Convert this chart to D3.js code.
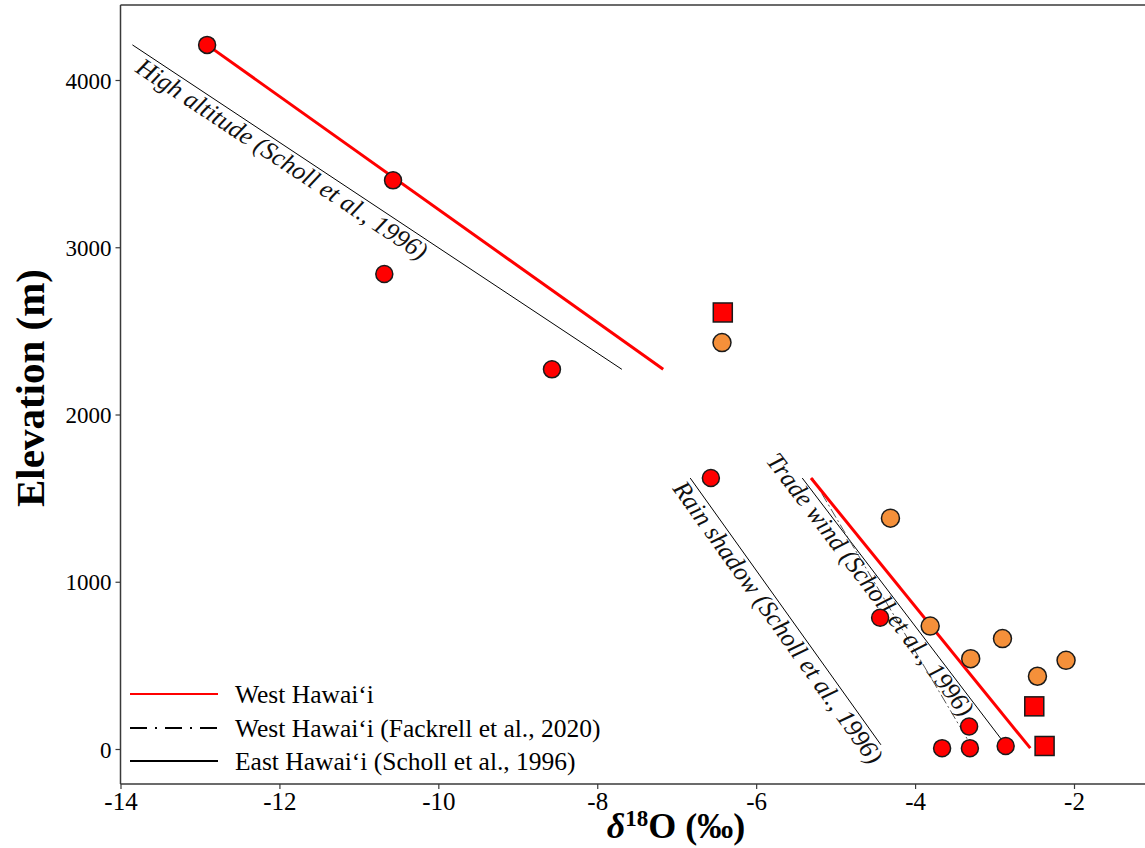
<!DOCTYPE html>
<html>
<head>
<meta charset="utf-8">
<script src="https://cdn.jsdelivr.net/npm/d3@7"></script>
<style>
  html, body { margin: 0; padding: 0; background: #fff; }
  svg { display: block; }
  text { font-family: "Liberation Serif", "Times New Roman", serif; }
</style>
</head>
<body>
<svg id="chart" width="1145" height="848"></svg>
<script>
// ---- data ----
const redCircleX = [-12.91, -10.57, -10.68, -8.57, -6.57, -4.44, -3.32, -3.66, -3.31, -2.86];
const redCircleY = [4210, 3400, 2840, 2270, 1620, 785, 135, 5, 5, 18];
const orangeX = [-6.43, -4.31, -3.81, -3.30, -2.90, -2.46, -2.10];
const orangeY = [2430, 1380, 735, 540, 660, 435, 530];
const squareX = [-6.42, -2.50, -2.37];
const squareY = [2610, 255, 18];

// regression / reference lines: [x1, y1, x2, y2]
const westHigh = [-12.91, 4210, -7.17, 2270];
const westLow = [-5.31, 1620, -2.55, 5];
const fackrell = [-5.29, 1620, -3.30, 25];
const highAltitude = [-13.85, 4210, -7.69, 2270];
const rainShadow = [-6.83, 1620, -4.43, 25];
const tradeWind = [-5.42, 1620, -2.84, 12];

const xTicks = [-14, -12, -10, -8, -6, -4, -2];
const yTicks = [0, 1000, 2000, 3000, 4000];

const legendLabels = ["West Hawai\u2018i", "West Hawai\u2018i (Fackrell et al., 2020)", "East Hawai\u2018i (Scholl et al., 1996)"];
const lineLabels = ["High altitude (Scholl et al., 1996)", "Rain shadow (Scholl et al., 1996)", "Trade wind (Scholl et al., 1996)"];

// ---- layout ----
const svg = d3.select("#chart");
const x = d3.scaleLinear().domain([-14, -2]).range([120.5, 1074]);
const y = d3.scaleLinear().domain([0, 4000]).range([749, 80]);
const plotTop = 5, plotBottom = 784, plotLeft = 120.5, plotRight = 1150;

const axisColor = "#3a3a3a";

// frame top line
svg.append("line").attr("x1", plotLeft).attr("x2", plotRight).attr("y1", plotTop).attr("y2", plotTop)
  .attr("stroke", axisColor).attr("stroke-width", 1.5);

// x axis
const xAxis = svg.append("g").attr("transform", `translate(0,${plotBottom})`)
  .call(d3.axisBottom(x).tickValues(xTicks).tickSize(5).tickSizeOuter(0).tickFormat(d => String(d)));
xAxis.select(".domain").attr("d", `M${plotLeft},0H${plotRight}`);
// y axis
const yAxis = svg.append("g").attr("transform", `translate(${plotLeft},0)`)
  .call(d3.axisLeft(y).tickValues(yTicks).tickSize(5).tickSizeOuter(0).tickFormat(d => String(d)));
yAxis.select(".domain").attr("d", `M0,${plotTop}V${plotBottom}`);

[xAxis, yAxis].forEach(g => {
  g.selectAll(".domain").attr("stroke", axisColor).attr("stroke-width", 1.5);
  g.selectAll(".tick line").attr("stroke", axisColor).attr("stroke-width", 1.2);
  g.selectAll(".tick text").attr("fill", "#000")
    .style("font-family", "'Liberation Serif', serif");
});
xAxis.selectAll(".tick text").style("font-size", "25px").attr("y", 8).attr("dy", "0.72em");
yAxis.selectAll(".tick text").style("font-size", "23px").attr("x", -9).attr("dy", "0.35em");

// axis titles
svg.append("text")
  .attr("transform", "translate(44,388) rotate(-90)")
  .attr("text-anchor", "middle")
  .style("font-size", "41px").style("font-weight", "bold")
  .text("Elevation (m)");

const xt = svg.append("text")
  .attr("x", 676).attr("y", 838)
  .attr("text-anchor", "middle")
  .style("font-size", "36px").style("font-weight", "bold");
xt.append("tspan").style("font-style", "italic").text("\u03b4");
xt.append("tspan").attr("dy", -12).style("font-size", "23px").text("18");
xt.append("tspan").attr("dy", 12).text("O (\u2030)");

// ---- lines ----
function drawLine(seg, color, width, dash) {
  const l = svg.append("line")
    .attr("x1", x(seg[0])).attr("y1", y(seg[1]))
    .attr("x2", x(seg[2])).attr("y2", y(seg[3]))
    .attr("stroke", color).attr("stroke-width", width);
  if (dash) l.attr("stroke-dasharray", dash);
  return l;
}
drawLine(highAltitude, "#000", 1);
drawLine(rainShadow, "#000", 1);
drawLine(tradeWind, "#000", 1);
drawLine(fackrell, "#555", 1, "10,3,2,3");

// rotated labels along lines
function lineLabel(seg, label, along, offset) {
  const x1 = x(seg[0]), y1 = y(seg[1]), x2 = x(seg[2]), y2 = y(seg[3]);
  const ang = Math.atan2(y2 - y1, x2 - x1) * 180 / Math.PI;
  svg.append("text")
    .attr("transform", `translate(${x1},${y1}) rotate(${ang})`)
    .attr("x", along).attr("y", offset)
    .style("font-size", "25.5px").style("font-style", "italic")
    .attr("fill", "#111")
    .text(label);
}
lineLabel(highAltitude, lineLabels[0], 16, 21);
lineLabel(rainShadow, lineLabels[1], -2, 21);
lineLabel(tradeWind, lineLabels[2], -36, 19);

drawLine(westHigh, "#ff0000", 3);
drawLine(westLow, "#ff0000", 3);

// ---- points ----
const stroke = "#1a1a1a";
svg.append("g").selectAll("circle").data(d3.range(redCircleX.length)).join("circle")
  .attr("cx", i => x(redCircleX[i])).attr("cy", i => y(redCircleY[i])).attr("r", 8.5)
  .attr("fill", "#ff0000").attr("stroke", stroke).attr("stroke-width", 1.5);
svg.append("g").selectAll("circle").data(d3.range(orangeX.length)).join("circle")
  .attr("cx", i => x(orangeX[i])).attr("cy", i => y(orangeY[i])).attr("r", 9)
  .attr("fill", "#f5903a").attr("stroke", stroke).attr("stroke-width", 1.5);
const sq = 19;
svg.append("g").selectAll("rect").data(d3.range(squareX.length)).join("rect")
  .attr("x", i => x(squareX[i]) - sq / 2).attr("y", i => y(squareY[i]) - sq / 2)
  .attr("width", sq).attr("height", sq)
  .attr("fill", "#ff0000").attr("stroke", stroke).attr("stroke-width", 1.5);

// ---- legend ----
const legY = [694, 728, 761];
const legStyles = [
  { color: "#ff0000", width: 2, dash: null },
  { color: "#000", width: 2, dash: "17,8,2,8" },
  { color: "#000", width: 2, dash: null }
];
legendLabels.forEach((lab, i) => {
  const ln = svg.append("line").attr("x1", 130).attr("x2", 218)
    .attr("y1", legY[i]).attr("y2", legY[i])
    .attr("stroke", legStyles[i].color).attr("stroke-width", legStyles[i].width);
  if (legStyles[i].dash) ln.attr("stroke-dasharray", legStyles[i].dash);
  svg.append("text").attr("x", 235).attr("y", legY[i]).attr("dy", "0.35em")
    .style("font-size", "25.5px").text(lab);
});
</script>
</body>
</html>
